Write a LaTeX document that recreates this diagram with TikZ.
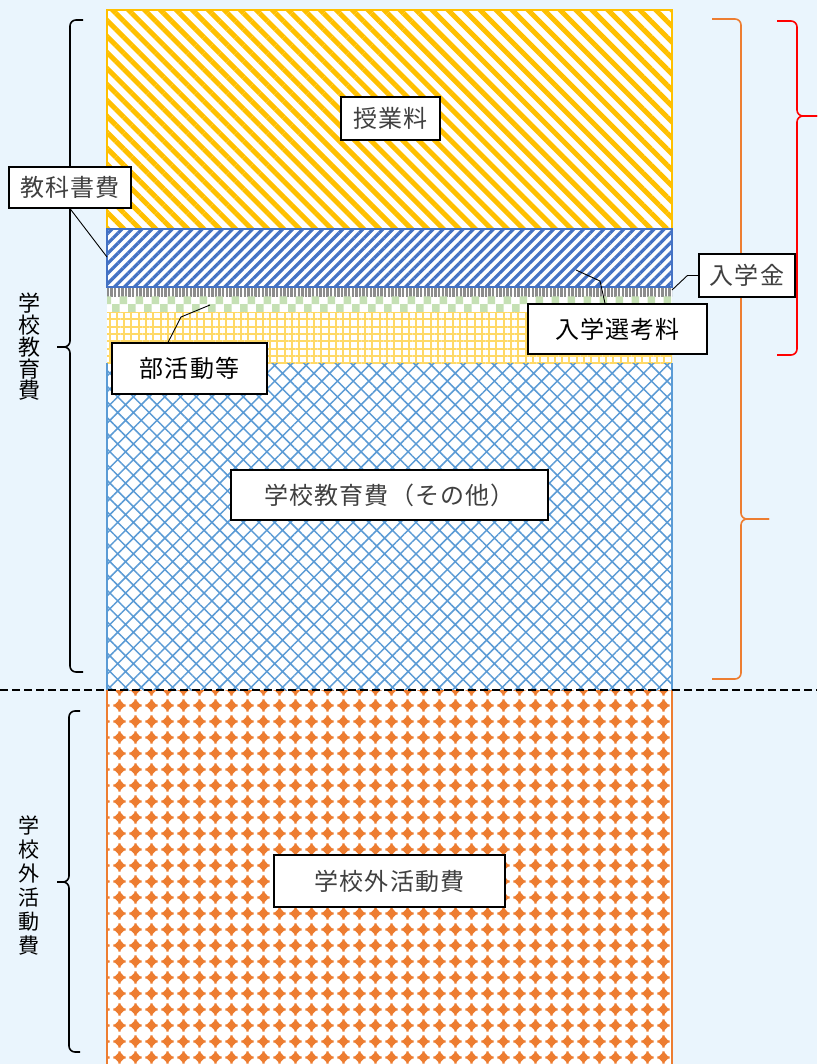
\documentclass[tikz,border=0pt]{standalone}
\usepackage{fontspec}
\setmainfont{Noto Sans CJK JP}
\usetikzlibrary{patterns.meta}

\definecolor{bgblue}{HTML}{EAF5FD}
\definecolor{feeyel}{HTML}{FFC000}
\definecolor{bookblue}{HTML}{4472C4}
\definecolor{entgray}{HTML}{8C8C8C}
\definecolor{examgreen}{HTML}{C5E0B4}
\definecolor{clubyel}{HTML}{FFD966}
\definecolor{otherblue}{HTML}{5B9BD5}
\definecolor{outorange}{HTML}{ED7D31}
\definecolor{labelgray}{HTML}{404040}

\tikzdeclarepattern{
  name=checker, type=uncolored,
  bottom left={(0pt,0pt)}, top right={(16pt,16pt)},
  tile size={(16pt,16pt)},
  code={
    \fill (0pt,0pt) rectangle (8pt,8pt);
    \fill (8pt,8pt) rectangle (16pt,16pt);
  }
}
\tikzdeclarepattern{
  name=blobs, type=uncolored,
  bottom left={(0pt,0pt)}, top right={(16pt,16pt)},
  tile size={(16pt,16pt)},
  code={
    \fill (8pt,2pt) -- (14pt,8pt) -- (8pt,14pt) -- (2pt,8pt) -- cycle;
    \fill (1.5pt,6.8pt) rectangle (14.5pt,9.2pt);
    \fill (6.8pt,1.5pt) rectangle (9.2pt,14.5pt);
  }
}

\begin{document}
\begin{tikzpicture}[x=1pt, y=-1pt,
    box/.style={draw, fill=white, line width=1.2pt, inner sep=0,
      font=\fontsize{24}{28}\selectfont\addfontfeature{LetterSpace=5}},
    side/.style={align=center, inner sep=0},
    brk/.style={line width=1.6pt, rounded corners=6pt},
    lead/.style={line width=0.9pt}]

    \useasboundingbox[fill=bgblue] (0,0) rectangle (817,1064);

    % Cost bands
    \fill[white] (107,10) rectangle (672,1066);
    \path[pattern={Lines[angle=-45, distance=11.3pt, line width=5pt]},
      pattern color=feeyel] (107,10) rectangle (672,229);
    \draw[feeyel, line width=1.5pt] (107,10) rectangle (672,229);
    \path[pattern={Lines[angle=45, distance=7.1pt, line width=3.2pt]},
      pattern color=bookblue] (107,229) rectangle (672,287);
    \draw[bookblue, line width=1.5pt] (107,229) rectangle (672,287);
    \path[pattern={Lines[angle=90, distance=3.6pt, line width=2.4pt]},
      pattern color=entgray] (107,288) rectangle (672,296);
    \path[pattern=checker, pattern color=examgreen] (107,296) rectangle (672,312);
    \path[pattern={Hatch[angle=0, distance=7.3pt, line width=2pt]},
      pattern color=clubyel] (107,312) rectangle (672,363);
    \path[pattern={Hatch[angle=45, distance=11.1pt, line width=1.5pt]},
      pattern color=otherblue] (107,363) rectangle (672,690);
    \draw[otherblue, line width=1.5pt] (107,363) -- (107,690) (672,363) -- (672,690);
    \path[pattern=blobs, pattern color=outorange] (107,690) rectangle (672,1066);
    \draw[outorange, line width=1.5pt] (107,690) -- (107,1066) (672,690) -- (672,1066);

    % Dividing line
    \draw[line width=2pt, dash pattern=on 8pt off 4pt] (0,690) -- (817,690);

    % Brackets
    \draw[brk] (83,20) -| (70,347) -- (57,347);
    \draw[brk] (83,672) -| (70,347) -- (57,347);
    \draw[brk] (80,711) -| (69,882) -- (57,882);
    \draw[brk] (80,1052) -| (69,882) -- (57,882);
    \draw[brk, outorange] (712,19) -| (741,519) -- (769,519);
    \draw[brk, outorange] (712,679) -| (741,519) -- (769,519);
    \draw[brk, red] (777,21) -| (797,116) -- (817,116);
    \draw[brk, red] (777,355) -| (797,116) -- (817,116);

    % Side labels
    \node[side, font=\fontsize{22}{21.7}\selectfont] (school) at (29,347)
      {学\\校\\教\\育\\費};
    \node[side, font=\fontsize{21}{24}\selectfont] (outside) at (29,885)
      {学\\校\\外\\活\\動\\費};

    % Leader ends
    \coordinate (bookpt) at (107,257);
    \coordinate (clubpt) at (210,305);
    \coordinate (exampt) at (576,270);
    \coordinate (entpt) at (672,290);

    % Labels
    \node[box, text=labelgray, minimum width=99, minimum height=43]
      (fee) at (390.5,118.5) {授業料};
    \node[box, text=labelgray, minimum width=122, minimum height=41]
      (book) at (70,187.5) {教科書費};
    \node[box, text=labelgray, minimum width=96, minimum height=43]
      (ent) at (747,275.5) {入学金};
    \node[box, minimum width=179, minimum height=50]
      (exam) at (617.5,329) {入学選考料};
    \node[box, minimum width=155, minimum height=51]
      (club) at (189.5,368.5) {部活動等};
    \node[box, text=labelgray, minimum width=317, minimum height=50]
      (other) at (389.5,495) {学校教育費（その他）};
    \node[box, text=labelgray, minimum width=231, minimum height=52]
      (out) at (389.5,881) {学校外活動費};

    % Leaders
    \draw[lead] (book.south) -- (bookpt);
    \draw[lead] ([xshift=-21.5pt]club.north) -- (181,317) -- (clubpt);
    \draw[lead] ([xshift=-12.5pt]exam.north) -- (600,281) -- (exampt);
    \draw[lead] (ent.west) -- ++(-11,0) -- (entpt);

\end{tikzpicture}
\end{document}
